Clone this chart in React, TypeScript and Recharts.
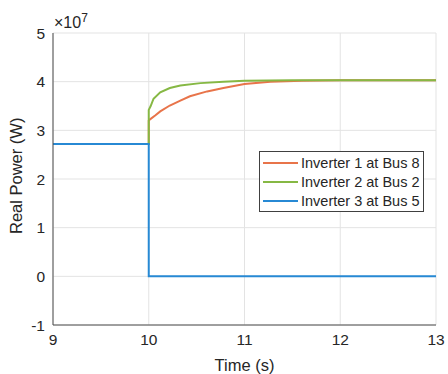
import { LineChart, Line, XAxis, YAxis, CartesianGrid } from 'recharts';

// ─── Data (power in units of 10^7 W) ────────────────────────────────
const inv1Time = [9, 10, 10, 10.01, 10.07, 10.12, 10.22, 10.33, 10.43, 10.61, 10.78, 11, 11.27, 11.6, 12, 12.5, 13];
const inv1Power = [2.72, 2.72, 3.2, 3.22, 3.31, 3.39, 3.51, 3.61, 3.7, 3.8, 3.87, 3.95, 4.0, 4.02, 4.03, 4.03, 4.03];

const inv2Time = [9, 10, 10, 10.02, 10.05, 10.12, 10.22, 10.33, 10.54, 10.78, 11, 11.5, 12, 13];
const inv2Power = [2.72, 2.72, 3.42, 3.5, 3.65, 3.78, 3.87, 3.92, 3.97, 4.0, 4.02, 4.03, 4.03, 4.03];

const inv3Time = [9, 10, 10, 13];
const inv3Power = [2.72, 2.72, 0, 0];

const xTicks = [9, 10, 11, 12, 13];
const yTicks = [-1, 0, 1, 2, 3, 4, 5];

const series = [
  { name: 'Inverter 1 at Bus 8', color: '#e8744a', time: inv1Time, power: inv1Power },
  { name: 'Inverter 2 at Bus 2', color: '#86b844', time: inv2Time, power: inv2Power },
  { name: 'Inverter 3 at Bus 5', color: '#2789d4', time: inv3Time, power: inv3Power },
];

const FONT = '"Liberation Sans", Arial, sans-serif';
const TEXT = '#262626';

// legend drawn as an overlay so it does not eat into the plot area
function LegendBox() {
  return (
    <div
      style={{
        position: 'absolute',
        left: 259,
        top: 151,
        border: '1px solid #404040',
        background: '#fff',
        padding: '1px 4px 1px 3px',
        fontFamily: FONT,
        fontSize: 14.5,
        color: TEXT,
      }}
    >
      {series.map((s) => (
        <div key={s.name} style={{ display: 'flex', alignItems: 'center', height: 19 }}>
          <span style={{ width: 35, height: 2, background: s.color, marginRight: 3, display: 'inline-block' }} />
          <span>{s.name}</span>
        </div>
      ))}
    </div>
  );
}

export default function App() {
  return (
    <div style={{ position: 'absolute', left: 0, top: 0, width: 448, height: 374, background: '#fff' }}>
      <LineChart width={448} height={374} margin={{ top: 33, right: 12, bottom: 0, left: 0 }}>
        <CartesianGrid stroke="#e3e3e3" strokeWidth={1} />
        <XAxis
          type="number"
          dataKey="t"
          domain={[9, 13]}
          ticks={xTicks}
          height={49}
          allowDuplicatedCategory={false}
          stroke="#4d4d4d"
          tickSize={0}
          tickMargin={9}
          tick={{ fill: TEXT, fontSize: 15.5, fontFamily: FONT }}
          label={{ value: 'Time (s)', position: 'insideBottom', offset: 3, fill: TEXT, fontSize: 16.5, fontFamily: FONT }}
        />
        <YAxis
          type="number"
          domain={[-1, 5]}
          ticks={yTicks}
          width={53}
          stroke="#4d4d4d"
          tickSize={0}
          tickMargin={8}
          tick={{ fill: TEXT, fontSize: 15.5, fontFamily: FONT }}
          label={{ value: 'Real Power (W)', angle: -90, position: 'insideLeft', offset: 16, dy: 55, fill: TEXT, fontSize: 16.5, fontFamily: FONT }}
        />
        {series.map((s) => (
          <Line
            key={s.name}
            data={s.time.map((t, i) => ({ t, p: s.power[i] }))}
            dataKey="p"
            name={s.name}
            type="linear"
            stroke={s.color}
            strokeWidth={2}
            dot={false}
            isAnimationActive={false}
          />
        ))}
      </LineChart>
      <LegendBox />
      <div
        style={{
          position: 'absolute',
          left: 54,
          top: 8,
          fontFamily: FONT,
          fontSize: 16,
          color: TEXT,
          lineHeight: '20px',
        }}
      >
        ×10<sup style={{ fontSize: 12, verticalAlign: 6 }}>7</sup>
      </div>
    </div>
  );
}
